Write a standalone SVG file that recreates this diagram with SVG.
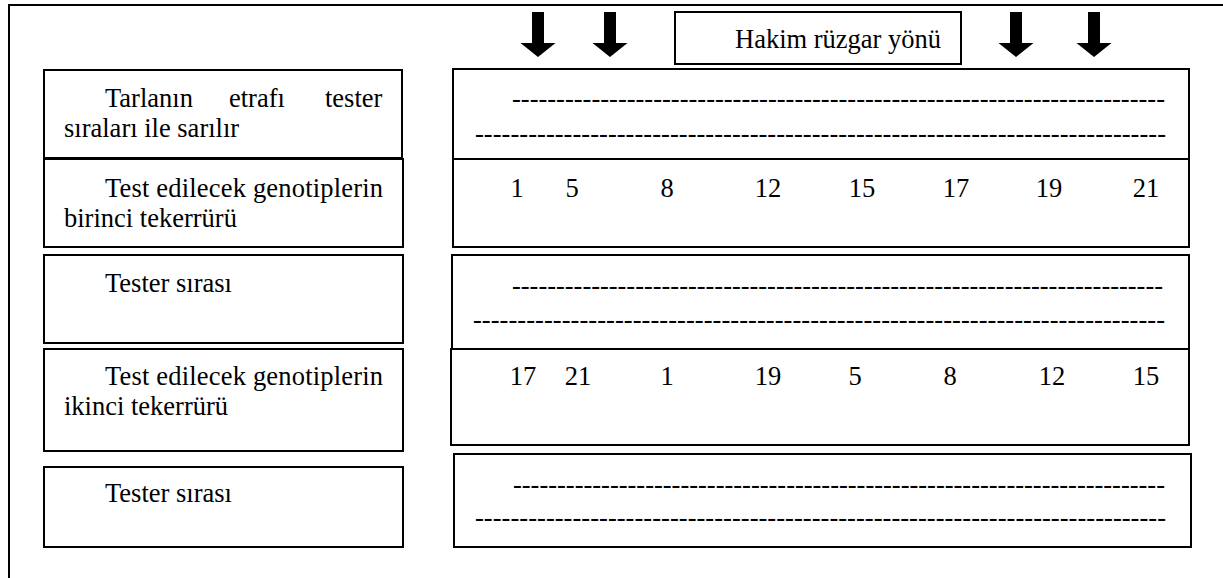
<svg xmlns="http://www.w3.org/2000/svg" width="1223" height="578" viewBox="0 0 1223 578">
<style>
  .box { fill: #fff; stroke: #000; stroke-width: 2; }
  .t { font-family: "Liberation Serif", "Times New Roman", serif; font-size: 26.5px; fill: #000; }
  .dash { font-family: "Liberation Serif", "Times New Roman", serif; font-size: 26.5px; fill: #000; }
  .num { font-family: "Liberation Serif", "Times New Roman", serif; font-size: 26.5px; fill: #000; text-anchor: middle; }
  .arrow { fill: #000; }
</style>
<rect width="1223" height="578" fill="#fff"/>
<g id="frame">
  <path d="M9 578 V5 H1223" fill="none" stroke="#000" stroke-width="2"/>
</g>
<g id="arrows">
  <path class="arrow" d="M532 12 H544 V43 H555.5 L538 57 L520.5 43 H532 Z"/>
  <path class="arrow" d="M604 12 H616 V43 H627.5 L610 57 L592.5 43 H604 Z"/>
  <path class="arrow" d="M1010 12 H1022 V43 H1033.5 L1016 57 L998.5 43 H1010 Z"/>
  <path class="arrow" d="M1088 12 H1100 V43 H1111.5 L1094 57 L1076.5 43 H1088 Z"/>
</g>
<g id="wind-label">
  <rect class="box" x="675" y="12" width="286" height="52"/>
  <text class="t" x="735" y="48">Hakim rüzgar yönü</text>
</g>
<g id="label-1">
  <rect class="box" x="44" y="70" width="358" height="88"/>
  <text class="t" y="107"><tspan x="105">Tarlanın</tspan><tspan x="229">etrafı</tspan><tspan x="325">tester</tspan></text>
  <text class="t" x="64" y="137">sıraları ile sarılır</text>
</g>
<g id="label-2">
  <rect class="box" x="44" y="159" width="359" height="88"/>
  <text class="t" x="105" y="197" textLength="278" lengthAdjust="spacing">Test edilecek genotiplerin</text>
  <text class="t" x="64" y="227">birinci tekerrürü</text>
</g>
<g id="label-3">
  <rect class="box" x="44" y="255" width="359" height="88"/>
  <text class="t" x="105" y="292">Tester sırası</text>
</g>
<g id="label-4">
  <rect class="box" x="44" y="349" width="359" height="102"/>
  <text class="t" x="105" y="385" textLength="278" lengthAdjust="spacing">Test edilecek genotiplerin</text>
  <text class="t" x="64" y="415">ikinci tekerrürü</text>
</g>
<g id="label-5">
  <rect class="box" x="44" y="467" width="359" height="80"/>
  <text class="t" x="105" y="502">Tester sırası</text>
</g>
<g id="row-1">
  <rect class="box" x="453" y="69" width="736" height="90"/>
  <text class="dash" x="512" y="107" textLength="653" lengthAdjust="spacing">--------------------------------------------------------------------------</text>
  <text class="dash" x="475" y="142" textLength="691" lengthAdjust="spacing">------------------------------------------------------------------------------</text>
</g>
<g id="row-2">
  <rect class="box" x="453" y="159" width="736" height="88"/>
  <text class="num" y="197"><tspan x="517">1</tspan><tspan x="572">5</tspan><tspan x="667">8</tspan><tspan x="768">12</tspan><tspan x="862">15</tspan><tspan x="956">17</tspan><tspan x="1049">19</tspan><tspan x="1146">21</tspan></text>
</g>
<g id="row-3">
  <rect class="box" x="452" y="255" width="737" height="94"/>
  <text class="dash" x="512" y="294" textLength="651" lengthAdjust="spacing">--------------------------------------------------------------------------</text>
  <text class="dash" x="473" y="328" textLength="692" lengthAdjust="spacing">------------------------------------------------------------------------------</text>
</g>
<g id="row-4">
  <rect class="box" x="451" y="349" width="738" height="96"/>
  <text class="num" y="385"><tspan x="523">17</tspan><tspan x="578">21</tspan><tspan x="667">1</tspan><tspan x="768">19</tspan><tspan x="855">5</tspan><tspan x="950">8</tspan><tspan x="1052">12</tspan><tspan x="1146">15</tspan></text>
</g>
<g id="row-5">
  <rect class="box" x="454" y="454" width="737" height="93"/>
  <text class="dash" x="513" y="493" textLength="652" lengthAdjust="spacing">--------------------------------------------------------------------------</text>
  <text class="dash" x="475" y="526" textLength="691" lengthAdjust="spacing">------------------------------------------------------------------------------</text>
</g>
</svg>
